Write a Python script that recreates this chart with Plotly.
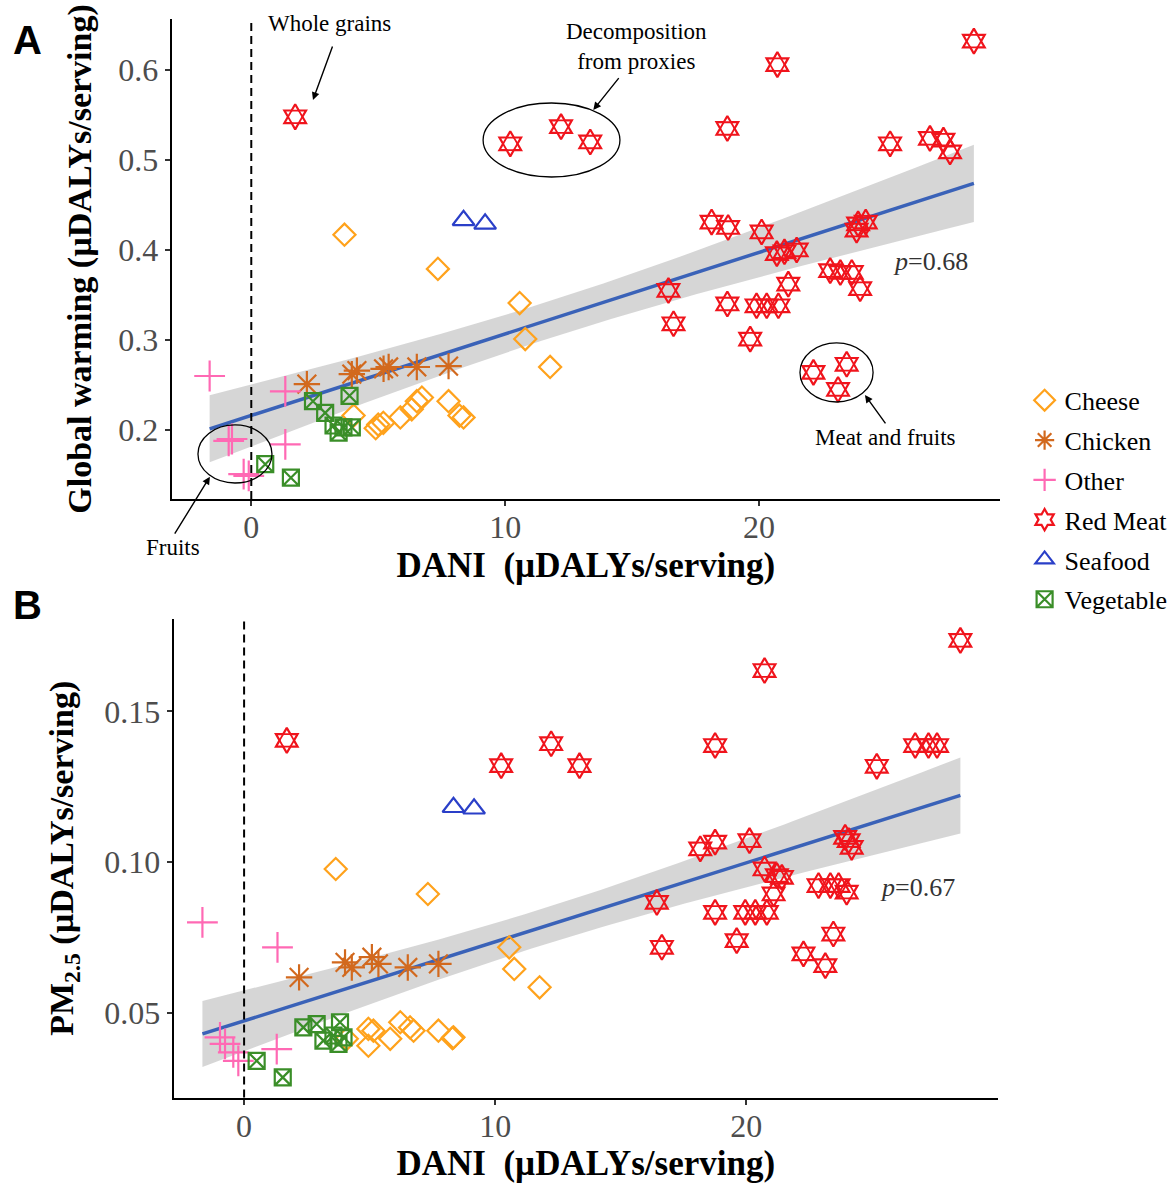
import numpy as np
import plotly.graph_objects as go

# ---------------- data ----------------
groups = ["Cheese", "Chicken", "Other", "Red Meat", "Seafood", "Vegetable"]

# Panel A: DANI vs Global warming
cheese_a_x = [3.67, 7.35, 10.57, 10.79, 11.77, 4.03, 4.90, 5.00, 5.20, 5.87, 6.32, 6.52, 6.72, 7.77, 8.20, 8.36]
cheese_a_y = [0.417, 0.379, 0.341, 0.301, 0.270, 0.216, 0.202, 0.206, 0.208, 0.214, 0.223, 0.232, 0.236, 0.232, 0.216, 0.214]
chicken_a_x = [2.19, 3.96, 4.16, 5.21, 5.41, 6.52, 7.77]
chicken_a_y = [0.251, 0.262, 0.266, 0.268, 0.270, 0.270, 0.271]
other_a_x = [-1.64, 1.34, -0.89, -0.76, 1.34, -0.30, -0.10]
other_a_y = [0.260, 0.243, 0.188, 0.190, 0.184, 0.151, 0.149]
redmeat_a_x = [1.73, 10.2, 12.2, 13.35, 28.46, 20.72, 18.75, 25.16, 26.73, 27.26, 27.52,
               18.13, 18.78, 20.1, 20.7, 21.0, 21.48, 23.9, 24.2, 23.84, 21.15, 16.43, 16.63,
               18.75, 19.9, 20.3, 20.76, 19.65, 22.8, 23.2, 23.65, 23.98, 22.14, 23.45, 23.11]
redmeat_a_y = [0.548, 0.518, 0.537, 0.520, 0.632, 0.606, 0.535, 0.518, 0.524, 0.522, 0.509,
               0.431, 0.425, 0.420, 0.396, 0.398, 0.400, 0.429, 0.431, 0.422, 0.362, 0.355, 0.318,
               0.340, 0.338, 0.338, 0.338, 0.301, 0.377, 0.375, 0.375, 0.357, 0.264, 0.273, 0.245]
seafood_a_x = [8.36, 9.21]
seafood_a_y = [0.433, 0.429]
veg_a_x = [0.55, 1.56, 2.43, 2.91, 3.87, 3.24, 3.63, 3.96, 3.44]
veg_a_y = [0.162, 0.147, 0.232, 0.219, 0.238, 0.205, 0.203, 0.203, 0.197]

# Panel B: DANI vs PM2.5
cheese_b_x = [3.65, 7.32, 10.56, 10.76, 11.77, 4.09, 4.95, 5.15, 4.95, 5.82, 6.22, 6.61, 6.75, 7.74, 8.30, 8.34]
cheese_b_y = [0.0977, 0.0894, 0.0717, 0.0645, 0.0584, 0.0413, 0.0446, 0.0440, 0.0390, 0.0413, 0.0468, 0.0451, 0.0440, 0.0440, 0.0415, 0.0418]
chicken_b_x = [2.19, 4.02, 4.29, 5.09, 5.35, 6.52, 7.74]
chicken_b_y = [0.0617, 0.0667, 0.0650, 0.0684, 0.0662, 0.0650, 0.0662]
other_b_x = [-1.66, 1.33, 1.30, -0.96, -0.76, -0.43, -0.23]
other_b_y = [0.0800, 0.0717, 0.0379, 0.0418, 0.0396, 0.0368, 0.0340]
redmeat_b_x = [1.70, 10.24, 12.23, 13.36, 28.53, 20.73, 18.76, 25.2, 26.73, 27.26, 27.6,
               18.17, 18.76, 20.13, 20.73, 21.22, 21.42, 21.09, 23.94, 24.08, 24.2, 16.44, 16.64,
               18.76, 19.96, 20.36, 20.82, 19.62, 22.88, 23.35, 23.68, 24.0, 23.47, 22.28, 23.15]
redmeat_b_y = [0.1404, 0.1320, 0.1393, 0.1320, 0.1736, 0.1636, 0.1387, 0.1318, 0.1387, 0.1387, 0.1387,
               0.1044, 0.1066, 0.1071, 0.0977, 0.0955, 0.0949, 0.0894, 0.1082, 0.1071, 0.1049, 0.0866, 0.0717,
               0.0833, 0.0833, 0.0833, 0.0833, 0.0739, 0.0922, 0.0922, 0.0922, 0.0900, 0.0761, 0.0695, 0.0656]
seafood_b_x = [8.34, 9.16]
seafood_b_y = [0.1182, 0.1177]
veg_b_x = [0.50, 1.54, 2.36, 2.89, 3.82, 3.16, 3.56, 3.96, 3.76]
veg_b_y = [0.0340, 0.0285, 0.0451, 0.0462, 0.0468, 0.0407, 0.0424, 0.0418, 0.0396]

p_text_a = "0.68"
p_text_b = "0.67"

# ---------------- styles ----------------
SERIF = "Liberation Serif"
colors = {"Cheese": "#FFA21C", "Chicken": "#D2691E", "Other": "#FF69B4",
          "Red Meat": "#F0141C", "Seafood": "#2A3FC8", "Vegetable": "#3A8E28"}
symbols = {"Cheese": "diamond-open", "Chicken": "asterisk-open", "Other": "cross-thin-open",
           "Red Meat": "hexagram-open", "Seafood": "triangle-up-open", "Vegetable": "square-x-open"}
sizes = {"Cheese": 17, "Chicken": 22, "Other": 22, "Red Meat": 19, "Seafood": 19, "Vegetable": 16}

data_a = {"Cheese": (cheese_a_x, cheese_a_y), "Chicken": (chicken_a_x, chicken_a_y),
          "Other": (other_a_x, other_a_y), "Red Meat": (redmeat_a_x, redmeat_a_y),
          "Seafood": (seafood_a_x, seafood_a_y), "Vegetable": (veg_a_x, veg_a_y)}
data_b = {"Cheese": (cheese_b_x, cheese_b_y), "Chicken": (chicken_b_x, chicken_b_y),
          "Other": (other_b_x, other_b_y), "Red Meat": (redmeat_b_x, redmeat_b_y),
          "Seafood": (seafood_b_x, seafood_b_y), "Vegetable": (veg_b_x, veg_b_y)}


def lm_band(d):
    x = np.concatenate([np.asarray(v[0], float) for v in d.values()])
    y = np.concatenate([np.asarray(v[1], float) for v in d.values()])
    b1, b0 = np.polyfit(x, y, 1)
    xs = np.linspace(x.min(), x.max(), 100)
    yhat = b0 + b1 * xs
    resid = y - (b0 + b1 * x)
    n = len(x)
    s = np.sqrt(np.sum(resid ** 2) / (n - 2))
    se = s * np.sqrt(1.0 / n + (xs - x.mean()) ** 2 / np.sum((x - x.mean()) ** 2))
    t = 1.993
    return xs, yhat, yhat - t * se, yhat + t * se


fig = go.Figure()

for d, xa, ya, show in [(data_a, "x", "y", True), (data_b, "x2", "y2", False)]:
    xs, yhat, lo, hi = lm_band(d)
    fig.add_trace(go.Scatter(x=xs, y=lo, mode="lines", line=dict(width=0), xaxis=xa, yaxis=ya,
                             showlegend=False, hoverinfo="skip"))
    fig.add_trace(go.Scatter(x=xs, y=hi, mode="lines", line=dict(width=0), fill="tonexty",
                             fillcolor="rgba(153,153,153,0.4)", xaxis=xa, yaxis=ya,
                             showlegend=False, hoverinfo="skip"))
    fig.add_trace(go.Scatter(x=xs, y=yhat, mode="lines", line=dict(color="#3A62B8", width=3.5),
                             xaxis=xa, yaxis=ya, showlegend=False, hoverinfo="skip"))
    for g in groups:
        gx, gy = d[g]
        fig.add_trace(go.Scatter(
            x=gx, y=gy, mode="markers", name=g, legendgroup=g, showlegend=show,
            xaxis=xa, yaxis=ya,
            marker=dict(symbol=symbols[g], size=sizes[g], color=colors[g],
                        line=dict(color=colors[g], width=2.2))))
        if g == "Red Meat":
            # inner hexagon so the star reads as two overlapping triangles
            fig.add_trace(go.Scatter(
                x=gx, y=gy, mode="markers", name=g, legendgroup=g, showlegend=False,
                xaxis=xa, yaxis=ya, hoverinfo="skip",
                marker=dict(symbol="hexagon2-open", size=sizes[g] * 0.76, color=colors[g],
                            line=dict(color=colors[g], width=1.8))))

axis_common = dict(showgrid=False, zeroline=False, showline=True, linecolor="black", linewidth=2,
                   ticks="outside", ticklen=5, tickwidth=2, tickcolor="#333333",
                   tickfont=dict(family=SERIF, size=32, color="#4D4D4D"), mirror=False)

title_font = dict(family=SERIF, size=35, color="black")
ytitle_font = dict(family=SERIF, size=34, color="black")

fig.update_layout(
    width=1175, height=1185, margin=dict(l=0, r=0, t=0, b=0),
    paper_bgcolor="white", plot_bgcolor="white",
    xaxis=dict(domain=[0.1460, 0.8511], range=[-3.14, 29.49], tickvals=[0, 10, 20], anchor="y",
               ticklabelstandoff=-6,
               title=dict(text="<b>DANI\u00a0 (µDALYs/serving)</b>", font=title_font, standoff=8),
               **axis_common),
    yaxis=dict(domain=[0.5789, 0.9840], range=[0.1233, 0.6567], tickvals=[0.2, 0.3, 0.4, 0.5, 0.6],
               anchor="x", title=dict(text="<b>Global warming (µDALYs/serving)</b>", font=ytitle_font, standoff=16),
               **axis_common),
    xaxis2=dict(domain=[0.1477, 0.8494], range=[-2.81, 30.03], tickvals=[0, 10, 20], anchor="y2",
                ticklabelstandoff=-6,
                title=dict(text="<b>DANI\u00a0 (µDALYs/serving)</b>", font=title_font, standoff=8),
                **axis_common),
    yaxis2=dict(domain=[0.0738, 0.4776], range=[0.0218, 0.1807], tickvals=[0.05, 0.10, 0.15],
                tickformat=".2f", anchor="x2",
                title=dict(text="<b>PM<sub>2.5</sub> (µDALYs/serving)</b>", font=ytitle_font, standoff=20),
                **axis_common),
    legend=dict(x=0.872, y=0.682, xanchor="left", yanchor="top", font=dict(family=SERIF, size=26, color="black"),
                tracegroupgap=3, itemwidth=30, bgcolor="rgba(0,0,0,0)"),
    showlegend=True,
)

# dashed zero lines
for xr, yr in [("x", "y domain"), ("x2", "y2 domain")]:
    fig.add_shape(type="line", xref=xr, yref=yr, x0=0, x1=0, y0=0, y1=1,
                  line=dict(color="black", width=2, dash="8px,5px"))

# ellipses in panel A
for x0, x1, y0, y1 in [(9.13, 14.52, 0.4811, 0.5633), (21.61, 24.49, 0.2311, 0.2967), (-2.10, 0.815, 0.1411, 0.2056)]:
    fig.add_shape(type="circle", xref="x", yref="y", x0=x0, x1=x1, y0=y0, y1=y1,
                  line=dict(color="black", width=1.3))

ann_font = dict(family=SERIF, size=23, color="black")
# arrows
for hx, hy, tx, ty in [(2.43, 0.5667, 3.22, 0.6278), (13.47, 0.5556, 14.52, 0.5926),
                       (24.17, 0.2389, 25.02, 0.2056), (-1.63, 0.1481, -3.05, 0.0831)]:
    fig.add_annotation(x=hx, y=hy, ax=tx, ay=ty, xref="x", yref="y", axref="x", ayref="y",
                       text="", showarrow=True, arrowhead=2, arrowsize=1.1, arrowwidth=1.4,
                       arrowcolor="black")
# labels
for txt, x, y in [("Whole grains", 3.10, 0.6522), ("Decomposition<br>from proxies", 15.16, 0.6256),
                  ("Meat and fruits", 24.96, 0.1922)]:
    fig.add_annotation(x=x, y=y, xref="x", yref="y", text=txt, showarrow=False, font=ann_font)
fig.add_annotation(x=173 / 1175, y=1 - 548 / 1185, xref="paper", yref="paper", text="Fruits",
                   showarrow=False, font=ann_font, xanchor="center", yanchor="middle")

fig.add_annotation(x=26.77, y=0.3867, xref="x", yref="y", text="<i>p</i>=" + p_text_a, showarrow=False,
                   font=dict(family=SERIF, size=26, color="#333333"))
fig.add_annotation(x=26.84, y=0.0914, xref="x2", yref="y2", text="<i>p</i>=" + p_text_b, showarrow=False,
                   font=dict(family=SERIF, size=26, color="#333333"))

# panel letters
for lbl, yy in [("A", 1 - 40 / 1185), ("B", 1 - 605 / 1185)]:
    fig.add_annotation(x=27 / 1175, y=yy, xref="paper", yref="paper", text="<b>" + lbl + "</b>",
                       xanchor="center", yanchor="middle",
                       showarrow=False, font=dict(family="Liberation Sans", size=40, color="black"))

fig.write_html("out.html")
